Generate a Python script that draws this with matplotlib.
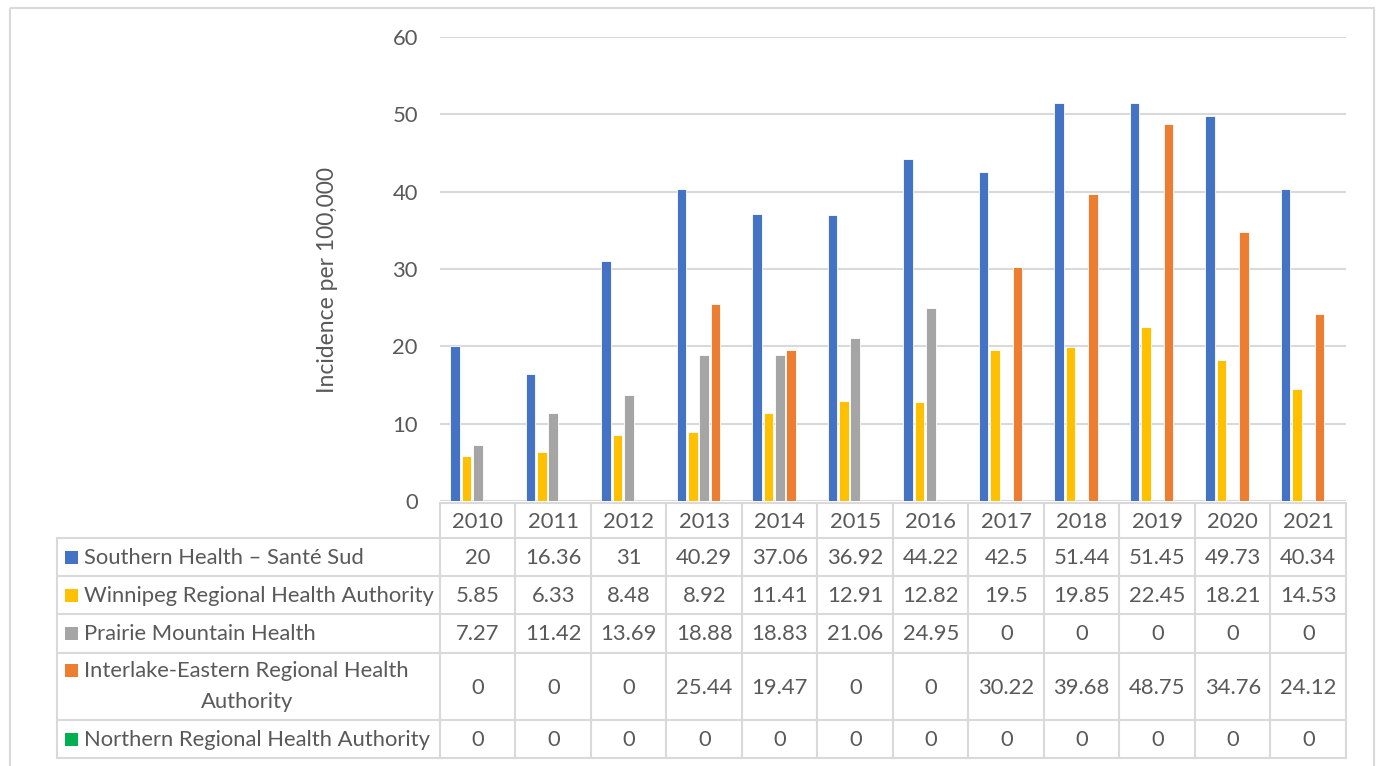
import matplotlib.pyplot as plt
from matplotlib.patches import Rectangle

years = ['2010', '2011', '2012', '2013', '2014', '2015',
         '2016', '2017', '2018', '2019', '2020', '2021']
series_names = ['Southern Health – Santé Sud',
                'Winnipeg Regional Health Authority',
                'Prairie Mountain Health',
                'Interlake-Eastern Regional Health\nAuthority',
                'Northern Regional Health Authority']
southern = [20, 16.36, 31, 40.29, 37.06, 36.92, 44.22, 42.5, 51.44, 51.45, 49.73, 40.34]
winnipeg = [5.85, 6.33, 8.48, 8.92, 11.41, 12.91, 12.82, 19.5, 19.85, 22.45, 18.21, 14.53]
prairie = [7.27, 11.42, 13.69, 18.88, 18.83, 21.06, 24.95, 0, 0, 0, 0, 0]
interlake = [0, 0, 0, 25.44, 19.47, 0, 0, 30.22, 39.68, 48.75, 34.76, 24.12]
northern = [0, 0, 0, 0, 0, 0, 0, 0, 0, 0, 0, 0]
colors = ['#4472C4', '#FFC000', '#A5A5A5', '#ED7D31', '#00B050']

series = [southern, winnipeg, prairie, interlake, northern]

W, H = 1381, 766
plt.rcParams['font.family'] = ['Lato', 'DejaVu Sans']
txt = '#595959'
grid = '#D9D9D9'
fs = 15.8

fig = plt.figure(figsize=(W / 100, H / 100), dpi=100)

# overlay in pixel coordinates for frame and data table
ov = fig.add_axes([0, 0, 1, 1])
ov.set_xlim(0, W)
ov.set_ylim(H, 0)
ov.axis('off')

# plot area
x0, x1 = 440, 1346
y_top, y_zero = 37, 501
ax = fig.add_axes([x0 / W, 1 - y_zero / H, (x1 - x0) / W, (y_zero - y_top) / H])
n = len(years)
slot = 0.15
for k, (vals, c) in enumerate(zip(series, colors)):
    xs = [i + 0.5 + (k - 2) * slot for i in range(n)]
    ax.bar(xs, vals, width=slot * 0.85, color=c, edgecolor='white', linewidth=0.6)
ax.set_xlim(0, n)
ax.set_ylim(0, 60)
ax.set_yticks(range(0, 61, 10))
ax.set_xticks([])
ax.tick_params(axis='y', length=0, pad=16, labelsize=fs, labelcolor=txt)
ax.yaxis.grid(True, color=grid, linewidth=1.5)
ax.set_axisbelow(True)
for s in ax.spines.values():
    s.set_visible(False)
ax.patch.set_alpha(0)
ov.text(328, 280, 'Incidence per 100,000', rotation=90, ha='center', va='center',
        fontsize=16.5, color=txt)

# outer frame
ov.add_patch(Rectangle((10, 8), 1364, 800, fill=False, edgecolor=grid, linewidth=1.5))

# data table
col_w = (x1 - x0) / n
left = 57
head_top, head_bot = 503, 538
row_edges = [538, 576, 614, 653, 720, 758]
lw = 1.5
ov.plot([x0, x1], [head_top, head_top], color=grid, lw=lw)
for y in row_edges:
    ov.plot([left, x1], [y, y], color=grid, lw=lw)
ov.plot([left, left], [row_edges[0], row_edges[-1]], color=grid, lw=lw)
for i in range(n + 1):
    xv = x0 + i * col_w
    ov.plot([xv, xv], [head_top, row_edges[-1]], color=grid, lw=lw)
for i, yr in enumerate(years):
    ov.text(x0 + (i + 0.5) * col_w, (head_top + head_bot) / 2 + 1, yr,
            ha='center', va='center', fontsize=fs, color=txt)
for r, (name, vals, c) in enumerate(zip(series_names, series, colors)):
    ya, yb = row_edges[r], row_edges[r + 1]
    yc = (ya + yb) / 2
    lines = name.split('\n')
    if len(lines) == 1:
        ov.add_patch(Rectangle((65, yc - 6.5), 13, 13, color=c, lw=0))
        ov.text(84, yc + 1, name, ha='left', va='center', fontsize=fs, color=txt)
    else:
        y1 = ya + 17
        ov.add_patch(Rectangle((65, y1 - 6.5), 13, 13, color=c, lw=0))
        ov.text(84, y1 + 1, lines[0], ha='left', va='center', fontsize=fs, color=txt)
        ov.text(247, y1 + 32, lines[1], ha='center', va='center', fontsize=fs, color=txt)
    for i, v in enumerate(vals):
        ov.text(x0 + (i + 0.5) * col_w, yc + 1, f'{v:g}', ha='center', va='center',
                fontsize=fs, color=txt)

fig.savefig('out.png', dpi=100)
